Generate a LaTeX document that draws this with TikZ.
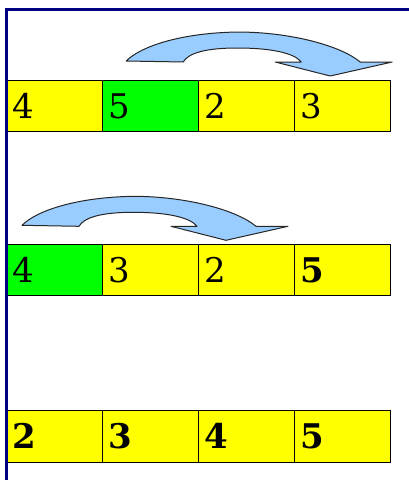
\documentclass[tikz,border=0pt]{standalone}
\usepackage{fontspec}
\setmainfont{DejaVu Serif}
\usetikzlibrary{positioning,calc}
\definecolor{framenavy}{RGB}{0,0,128}
\definecolor{cellyellow}{RGB}{255,255,0}
\definecolor{cellgreen}{RGB}{0,255,0}
\definecolor{swapblue}{RGB}{153,204,255}

\begin{document}
\begin{tikzpicture}[x=1pt, y=-1pt,
  cell/.style={draw=black, line width=1pt, fill=cellyellow, outer sep=0pt,
               minimum width=96pt, minimum height=51.5pt, text width=84pt,
               inner xsep=6pt, inner ysep=0pt, text height=25pt, text depth=0pt,
               align=left, font=\fontsize{34}{40}\selectfont},
  pick/.style={cell, fill=cellgreen},
  swaparrow/.pic={
    \draw[fill=swapblue, draw=black!85, line width=1pt, line join=round]
      (0,0) .. controls (15,-15) and (55,-28) .. (111,-29)
            .. controls (165,-29) and (215,-15) .. (234,1)
            -- (266,1) -- (204,15) -- (149,1) -- (175,1)
            .. controls (168,-8) and (145,-13) .. (111,-13)
            .. controls (80,-13) and (62,-8) .. (57,1) -- cycle;
  }]
\useasboundingbox (0,0) rectangle (409,480);

% ---------- first pass: 5 goes to the end ----------
\node[cell, anchor=north west] (a1) at (6.7,80) {4};
\node[pick, right=0pt of a1] (a2) {5};
\node[cell, right=0pt of a2] (a3) {2};
\node[cell, right=0pt of a3] (a4) {3};
\pic at ($(a2.north west)+(23.5,-19)$) {swaparrow};

% ---------- second pass: 4 goes to slot three ----------
\node[pick, anchor=north west] (b1) at (6.7,244.3) {4};
\node[cell, right=0pt of b1] (b2) {3};
\node[cell, right=0pt of b2] (b3) {2};
\node[cell, right=0pt of b3] (b4) {\textbf{5}};
\pic at ($(b1.north west)+(15.3,-19)$) {swaparrow};

% ---------- sorted ----------
\node[cell, anchor=north west] (c1) at (6.7,410.7) {\textbf{2}};
\node[cell, right=0pt of c1] (c2) {\textbf{3}};
\node[cell, right=0pt of c2] (c3) {\textbf{4}};
\node[cell, right=0pt of c3] (c4) {\textbf{5}};

% frame
\draw[framenavy, line width=3pt] (6.5,481) |- (410,9.5);
\end{tikzpicture}
\end{document}
